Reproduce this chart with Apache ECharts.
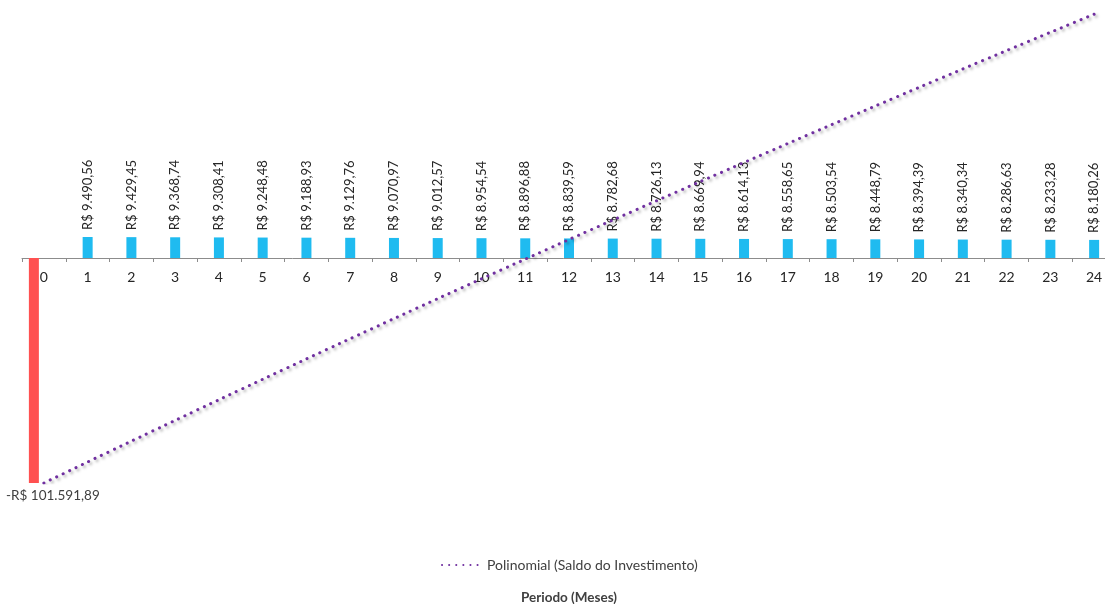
<!DOCTYPE html>
<html>
<head>
<meta charset="utf-8">
<script src="https://cdn.jsdelivr.net/npm/echarts@6/dist/echarts.min.js"></script>
<style>
  html, body { margin: 0; padding: 0; background: #ffffff; }
  #chart { width: 1105px; height: 604px; }
</style>
</head>
<body>
<div id="chart"></div>
<script>
// Períodos (meses) do fluxo de caixa
const periodos = ['0','1','2','3','4','5','6','7','8','9','10','11','12','13','14','15','16','17','18','19','20','21','22','23','24'];

// Investimento inicial (saída no mês 0)
const investimento = [-101591.89, null, null, null, null, null, null, null, null, null, null, null, null,
  null, null, null, null, null, null, null, null, null, null, null, null];

// Retornos mensais
const retornos = [null, 9490.56, 9429.45, 9368.74, 9308.41, 9248.48, 9188.93, 9129.76, 9070.97, 9012.57,
  8954.54, 8896.88, 8839.59, 8782.68, 8726.13, 8669.94, 8614.13, 8558.65, 8503.54, 8448.79,
  8394.39, 8340.34, 8286.63, 8233.28, 8180.26];

// Saldo do investimento acumulado (linha de tendência polinomial)
const saldo = [-101591.89, -92101.33, -82671.88, -73303.14, -63994.73, -54746.25, -45557.32, -36427.56,
  -27356.59, -18344.02, -9389.48, -492.60, 8346.99, 17129.67, 25855.80, 34525.74, 43139.87,
  51698.52, 60202.06, 68650.85, 77045.24, 85385.58, 93672.21, 101905.49, 110085.75];

const FONT = 'Lato, "Open Sans", sans-serif';

function moedaBR(v) {
  const neg = v < 0;
  const parts = Math.abs(v).toFixed(2).split('.');
  const inteiro = parts[0].replace(/\B(?=(\d{3})+(?!\d))/g, '.');
  return (neg ? '-' : '') + 'R$ ' + inteiro + ',' + parts[1];
}

const chart = echarts.init(document.getElementById('chart'), null, { renderer: 'canvas' });

chart.setOption({
  animation: false,
  backgroundColor: '#ffffff',
  textStyle: { fontFamily: FONT },
  grid: { left: 22, top: 10, width: 1094, bottom: 121, containLabel: false, outerBoundsMode: 'none' },
  legend: {
    left: 436,
    top: 553,
    itemWidth: 40,
    itemHeight: 8,
    itemGap: 6,
    itemStyle: { opacity: 0 },
    textStyle: { fontFamily: FONT, fontSize: 14, color: '#404040' },
    data: ['Polinomial (Saldo do Investimento)']
  },
  xAxis: {
    type: 'category',
    data: periodos,
    boundaryGap: true,
    position: 'bottom',
    // raise the axis from the grid floor up to the zero level
    offset: -225,
    name: 'Periodo (Meses)',
    nameLocation: 'middle',
    nameGap: 333,
    nameTextStyle: { fontFamily: FONT, fontSize: 13.5, fontWeight: 'bold', color: '#404040' },
    axisLine: { onZero: false, lineStyle: { color: '#8c8c8c', width: 1 } },
    axisTick: { show: true, alignWithLabel: false, length: 4, lineStyle: { color: '#8c8c8c' } },
    axisLabel: { fontFamily: FONT, fontSize: 14, color: '#262626', margin: 12 },
    splitLine: { show: false }
  },
  yAxis: {
    type: 'value',
    min: 'dataMin',
    max: 112000,
    show: false,
    splitLine: { show: false }
  },
  series: [
    {
      name: 'Investimento',
      type: 'bar',
      data: investimento,
      barWidth: 10,
      barGap: '0%',
      itemStyle: { color: '#ff5050' },
      z: 2,
      label: {
        show: true,
        position: 'bottom',
        distance: 6,
        offset: [19, 0],
        fontFamily: FONT,
        fontSize: 13.5,
        color: '#404040',
        formatter: p => moedaBR(p.value)
      }
    },
    {
      name: 'Retornos',
      type: 'bar',
      data: retornos,
      barWidth: 10,
      barGap: '0%',
      itemStyle: { color: '#1fbbf0' },
      z: 2,
      label: {
        show: true,
        position: 'top',
        rotate: 90,
        align: 'left',
        verticalAlign: 'middle',
        distance: 7,
        fontFamily: FONT,
        fontSize: 13,
        color: '#262626',
        formatter: p => moedaBR(p.value)
      }
    },
    {
      // empty slot that keeps the monthly bars centred on their ticks
      name: 'slot',
      type: 'bar',
      data: [],
      barWidth: 10,
      barGap: '0%'
    },
    {
      name: 'Polinomial (Saldo do Investimento)',
      type: 'line',
      data: saldo,
      smooth: 0.2,
      symbol: 'none',
      z: 10,
      lineStyle: {
        color: '#7030a0',
        width: 3,
        type: [0.1, 7],
        cap: 'round',
        shadowColor: 'rgba(0,0,0,0.35)',
        shadowBlur: 3,
        shadowOffsetX: 2,
        shadowOffsetY: 2
      },
      itemStyle: { color: '#7030a0' }
    }
  ]
});
</script>
</body>
</html>
